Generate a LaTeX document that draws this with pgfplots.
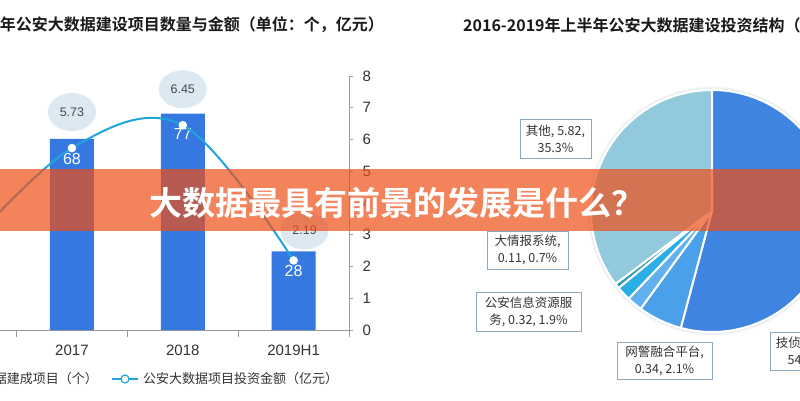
\documentclass[border=0pt]{standalone}
\usepackage{fontspec}
\setmainfont{Liberation Sans}
\newfontfamily\cjk{Noto Sans CJK SC}[BoldFont={Noto Sans CJK SC Bold}]
\usepackage{pgfplots}
\usepackage{pgfplotstable}
\pgfplotsset{compat=1.18}
\usetikzlibrary{shapes.geometric}

\definecolor{barblue}{HTML}{3579E0}
\definecolor{linecyan}{HTML}{1EA6DC}
\definecolor{ellfill}{HTML}{DCE9F2}
\definecolor{axisgray}{HTML}{9A9A9A}
\definecolor{textdark}{HTML}{333333}
\definecolor{ellitext}{HTML}{4A4A4A}
\definecolor{titleblack}{HTML}{1A1A1A}
\definecolor{boxgray}{HTML}{8BA9C4}
\definecolor{bannerorange}{RGB}{239,79,22}
\definecolor{p1}{HTML}{3E84E0}
\definecolor{p2}{HTML}{4BA0EA}
\definecolor{p3}{HTML}{62B0F0}
\definecolor{p4}{HTML}{2AAEE6}
\definecolor{p5}{HTML}{2E99B2}
\definecolor{p6}{HTML}{92C9DC}
\definecolor{shadowgray}{HTML}{EEF1F4}

\pgfplotstableread{
x count amount
0 53 2.4
1 68 5.73
2 77 6.45
3 28 2.19
}\bardata

\pgfplotstableread{
value col
8.93 p1
0.97 p2
0.34 p3
0.32 p4
0.11 p5
5.82 p6
}\pietable

\pgfplotsset{/pgf/number format/assume math mode=true}

\begin{document}
\begin{tikzpicture}
\fill[white] (0pt,0pt) rectangle (800pt,400pt);

% ---------- bars ----------
\begin{axis}[at={(0pt,70pt)}, anchor=south west, scale only axis,
  width=349pt, height=254pt,
  xmin=0.351, xmax=3.5, ymin=0, ymax=90.4,
  axis x line*=bottom, axis y line=none, ytick=\empty,
  axis line style={draw=axisgray, line width=0.8pt, -},
  xtick={1,2,3}, xticklabels={2017,2018,2019H1}, major tick length=0pt,
  extra x ticks={0.5,1.5,2.5,3.5}, extra x tick labels={},
  extra x tick style={major tick length=7pt, tick align=outside,
     tick style={draw=axisgray, line width=0.8pt}},
  xticklabel style={font=\fontsize{15}{18}\selectfont, text=textdark, yshift=-11pt},
]
\addplot[ybar, bar width=44pt, fill=barblue, draw=none,
  nodes near coords,
  every node near coord/.append style={anchor=center, yshift=-20pt, text=white,
     font=\fontsize{16}{18}\selectfont}]
  table[x=x, y=count]{\bardata};
\end{axis}

% ---------- line ----------
\begin{axis}[at={(0pt,70pt)}, anchor=south west, scale only axis,
  width=349pt, height=254pt,
  xmin=0.351, xmax=3.5, ymin=0, ymax=8,
  axis y line*=right, axis x line=none, xtick=\empty,
  axis line style={draw=axisgray, line width=0.8pt, -},
  ytick={0,1,2,3,4,5,6,7,8}, tick align=outside, major tick length=4pt,
  tick style={draw=axisgray, line width=0.8pt},
  yticklabel style={font=\fontsize{15}{18}\selectfont, text=textdark, xshift=6pt},
]
\addplot[color=linecyan, line width=2pt, smooth, tension=0.6,
  mark=*, mark size=4pt, mark options={fill=white, draw=white, line width=0.5pt},
  nodes near coords,
  every node near coord/.append style={ellipse, fill=ellfill, text=ellitext,
     minimum width=48pt, minimum height=38pt, inner sep=0pt, anchor=center,
     yshift=36pt, font=\fontsize{12.5}{14}\selectfont},
  coordinate style/.condition={\coordindex==3}{xshift=11pt, yshift=-6pt}]
  table[x=x, y=amount]{\bardata};
\end{axis}

% ---------- pie ----------
\begin{axis}[at={(591pt,68pt)}, anchor=south west, scale only axis,
  width=242pt, height=242pt, xmin=-1, xmax=1, ymin=-1, ymax=1,
  hide axis, clip=false]
\pgfplotsextra{
  \fill[shadowgray] (axis cs:0,0) circle (124pt);
  \pgfplotstablegetrowsof{\pietable}
  \pgfmathtruncatemacro\nrows{\pgfplotsretval-1}
  \gdef\pietotal{0}
  \foreach \i in {0,...,\nrows}{
    \pgfplotstablegetelem{\i}{value}\of\pietable
    \pgfmathsetmacro\tmp{\pietotal+\pgfplotsretval}
    \global\let\pietotal\tmp
  }
  \gdef\cumangle{0}
  \foreach \i in {0,...,\nrows}{
    \pgfplotstablegetelem{\i}{value}\of\pietable
    \pgfmathsetmacro\ang{\pgfplotsretval/\pietotal*360}
    \pgfplotstablegetelem{\i}{col}\of\pietable
    \edef\slicecol{\pgfplotsretval}
    \pgfmathsetmacro\sa{90-\cumangle}
    \pgfmathsetmacro\ea{90-\cumangle-\ang}
    \filldraw[fill=\slicecol, draw=white, line width=2pt, line join=round]
      (axis cs:0,0) -- ++(\sa:121pt) arc[start angle=\sa, end angle=\ea, radius=121pt] -- cycle;
    \pgfmathsetmacro\tmp{\cumangle+\ang}
    \global\let\cumangle\tmp
  }
}
\end{axis}

\begin{scope}[x=1pt,y=1pt]
% ---------- pie labels ----------
\tikzset{piebox/.style={draw=boxgray, fill=white, line width=0.8pt, align=center,
  font=\cjk\fontsize{12.5}{17}\selectfont, text=textdark, inner sep=0pt}}
\node[piebox, minimum width=71pt, minimum height=39pt] at (555.5,261.5) {其他, 5.82,\\35.3\%};
\node[piebox, minimum width=81pt, minimum height=38pt] at (527.5,150) {大情报系统,\\0.11, 0.7\%};
\node[piebox, minimum width=105pt, minimum height=39pt] at (528.5,88.5) {公安信息资源服\\务, 0.32, 1.9\%};
\node[piebox, minimum width=95pt, minimum height=37pt] at (664.5,39.5) {网警融合平台,\\0.34, 2.1\%};
\node[piebox, minimum width=71pt, minimum height=38pt] at (805.5,49) {技侦, 8.93,\\54.2\%};

% ---------- legend ----------
\node[anchor=east, font=\cjk\fontsize{13}{15}\selectfont, text=textdark, inner sep=0pt] at (98,21) {公安大数据建成项目（个）};
\draw[linecyan, line width=2.5pt] (112,21) -- (138,21);
\filldraw[fill=white, draw=linecyan, line width=1.2pt] (125,21) circle (4);
\node[anchor=west, font=\cjk\fontsize{13}{15}\selectfont, text=textdark, inner sep=0pt] at (143,21) {公安大数据项目投资金额（亿元）};

% ---------- titles ----------
\node[anchor=east, font=\cjk\bfseries\fontsize{16}{19}\selectfont, text=titleblack, inner sep=0pt] at (384,375) {2016-2019年上半年公安大数据建设项目数量与金额（单位：个，亿元）};
\node[anchor=west, font=\cjk\bfseries\fontsize{16}{19}\selectfont, text=titleblack, inner sep=0pt] at (463,375) {2016-2019年上半年公安大数据建设投资结构（亿元）};

% ---------- banner ----------
\fill[bannerorange, opacity=0.7] (0,169) rectangle (800,231);
\node[font=\cjk\bfseries\fontsize{33}{36}\selectfont, text=white, inner sep=0pt] at (397,197) {大数据最具有前景的发展是什么？};
\end{scope}

\pgfresetboundingbox
\useasboundingbox (0pt,0pt) rectangle (800pt,400pt);
\end{tikzpicture}
\end{document}
